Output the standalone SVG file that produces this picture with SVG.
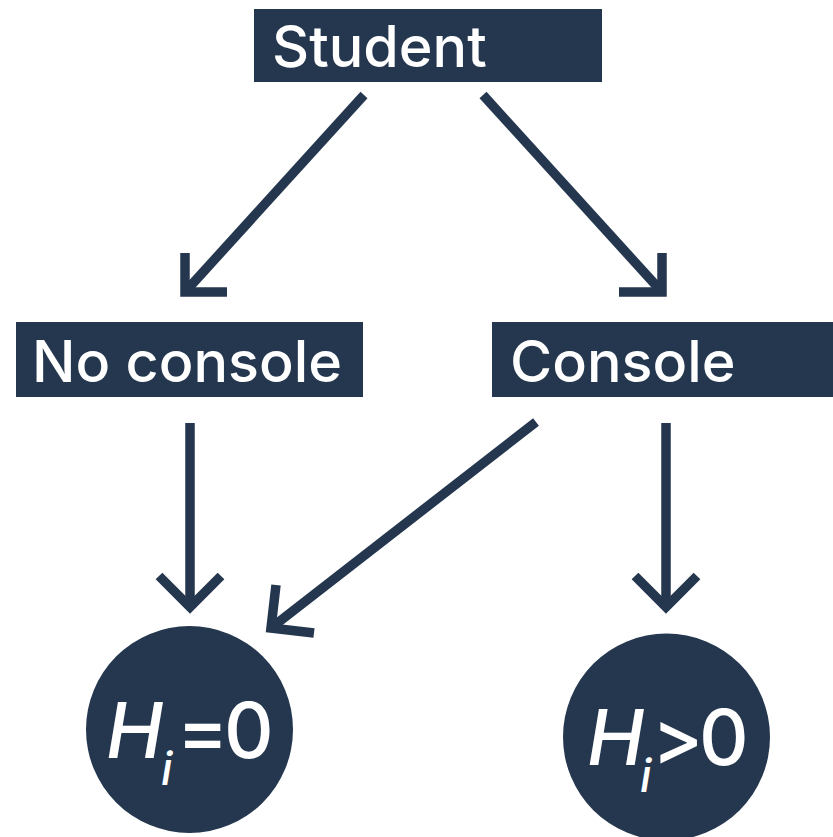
<svg xmlns="http://www.w3.org/2000/svg" width="833" height="837" viewBox="0 0 833 837">
<style>
.box{fill:#24374F}
.lbl{font-family:Inter,"Liberation Sans",sans-serif;font-size:57.5px;font-weight:500;fill:#fff}
.math{font-family:Inter,"Liberation Sans",sans-serif;font-size:77px;font-weight:500;fill:#fff}
.it{font-style:italic}
.sub{font-size:45px;font-style:italic}
.conn{fill:none;stroke:#24374F;stroke-width:9.5;stroke-linecap:butt;stroke-linejoin:miter}
</style>
<rect width="833" height="837" fill="#fff"/>
<g id="connectors">
  <path class="conn" d="M364,95 L185,292"/>
  <path class="conn" d="M185,253 L185,292 L227,292"/>
  <path class="conn" d="M483,95 L662,292"/>
  <path class="conn" d="M662,253 L662,292 L619,292"/>
  <path class="conn" d="M190,423 L190,606"/>
  <path class="conn" d="M159,576 L190,607 L221,576"/>
  <path class="conn" d="M536,422 L271,628"/>
  <path class="conn" d="M276,585 L271,628 L314,633"/>
  <path class="conn" d="M666,423 L666,606"/>
  <path class="conn" d="M635,576 L666,607 L697,576"/>
</g>
<g id="student">
  <rect class="box" x="254" y="9" width="348" height="73"/>
  <text class="lbl" x="272" y="67">Student</text>
</g>
<g id="no-console">
  <rect class="box" x="16" y="322" width="347" height="75"/>
  <text class="lbl" x="32" y="382">No console</text>
</g>
<g id="console">
  <rect class="box" x="492" y="322" width="341" height="75"/>
  <text class="lbl" x="510" y="382">Console</text>
</g>
<g id="h-zero">
  <circle class="box" cx="189.5" cy="729.5" r="103.5"/>
  <text class="math"><tspan class="it" x="106" y="758">H</tspan><tspan class="sub" x="161" y="785">i</tspan><tspan x="177" y="758">=</tspan><tspan x="224" y="758">0</tspan></text>
</g>
<g id="h-pos">
  <circle class="box" cx="666.5" cy="737" r="103.5"/>
  <text class="math"><tspan class="it" x="587" y="765">H</tspan><tspan class="sub" x="640" y="792">i</tspan><tspan x="652" y="765">&gt;</tspan><tspan x="699" y="765">0</tspan></text>
</g>
</svg>
